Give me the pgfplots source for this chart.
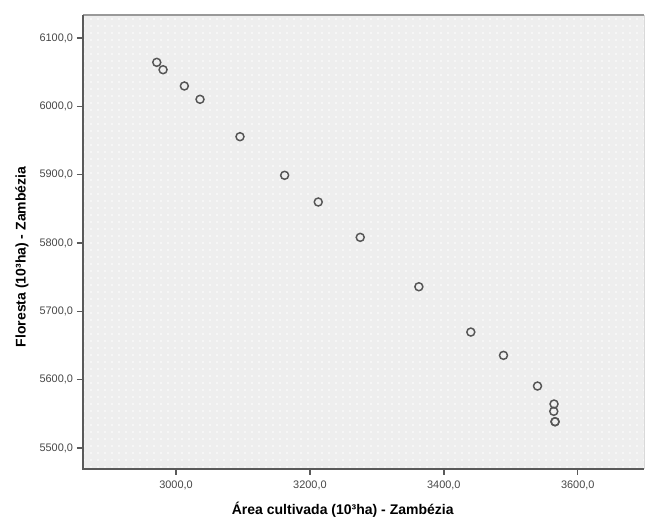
\documentclass[border=0pt]{standalone}
\usepackage{fontspec}
\setmainfont{Liberation Sans}
\usepackage{pgfplots}
\pgfplotsset{compat=1.18}
\usetikzlibrary{patterns}
\pgfdeclarepatternformonly{spssdots}{\pgfpoint{-1pt}{-1pt}}{\pgfpoint{1pt}{1pt}}{\pgfpoint{5.25pt}{5.25pt}}{\pgfpathcircle{\pgfpointorigin}{0.65pt}\pgfusepath{fill}}
\definecolor{bgc}{RGB}{238,238,238}
\definecolor{axc}{RGB}{90,90,90}
\definecolor{tkc}{RGB}{70,70,70}
\definecolor{mkc}{RGB}{85,85,85}
\begin{document}
\begin{tikzpicture}
\path[use as bounding box] (-62.25pt,-45.75pt) rectangle (421.5pt,351.75pt);
\begin{axis}[
  at={(0,0)}, anchor=south west,
  scale only axis, width=420.75pt, height=340.5pt,
  xmin=2861, xmax=3699, ymin=5469.3, ymax=6133.7,
  axis background/.style={preaction={fill=bgc}, pattern=spssdots, pattern color=white},
  axis line style={draw=none},
  tick align=outside, tick pos=left,
  major tick length=4.5pt,
  tick style={axc, line width=1pt},
  xtick={3000,3200,3400,3600},
  xticklabels={{3000,0},{3200,0},{3400,0},{3600,0}},
  ytick={5500,5600,5700,5800,5900,6000,6100},
  yticklabels={{5500,0},{5600,0},{5700,0},{5800,0},{5900,0},{6000,0},{6100,0}},
  ticklabel style={font=\fontsize{8.2}{9.5}\selectfont, text=tkc},
  yticklabel style={xshift=0.5pt},
  xticklabel style={yshift=-1pt},
  xlabel={Área cultivada (10³ha) - Zambézia},
  ylabel={Floresta (10³ha) - Zambézia},
  label style={font=\fontsize{10.5}{12}\selectfont\bfseries},
  xlabel style={at={(axis description cs:0.463,-0.0903)}, anchor=center},
  ylabel style={at={(axis description cs:-0.1087,0.467)}, anchor=center},
  clip=false,
]
\addplot[only marks, mark=o, mark size=3pt, mark options={draw=mkc, line width=1.1pt}] coordinates {
(2971.2,6064.4)
(2980.6,6053.6)
(3012.4,6029.8)
(3035.8,6010.3)
(3095.5,5955.6)
(3162.2,5899.1)
(3212.4,5860.0)
(3275.1,5808.3)
(3362.7,5736.0)
(3440.3,5669.7)
(3489.1,5635.6)
(3539.9,5590.7)
(3564.6,5564.4)
(3564.2,5553.7)
(3566.1,5538.5)
(3566.1,5538.5)
};
\draw[gray!80, line width=1.6pt] (axis description cs:0,1) -- (axis description cs:1,1);
\draw[gray!30, line width=0.6pt] (axis description cs:1,0) -- (axis description cs:1,1);
\draw[axc, line width=1.2pt] (axis description cs:0,1) -- (axis description cs:0,0) -- (axis description cs:1,0);
\end{axis}
\end{tikzpicture}
\end{document}
